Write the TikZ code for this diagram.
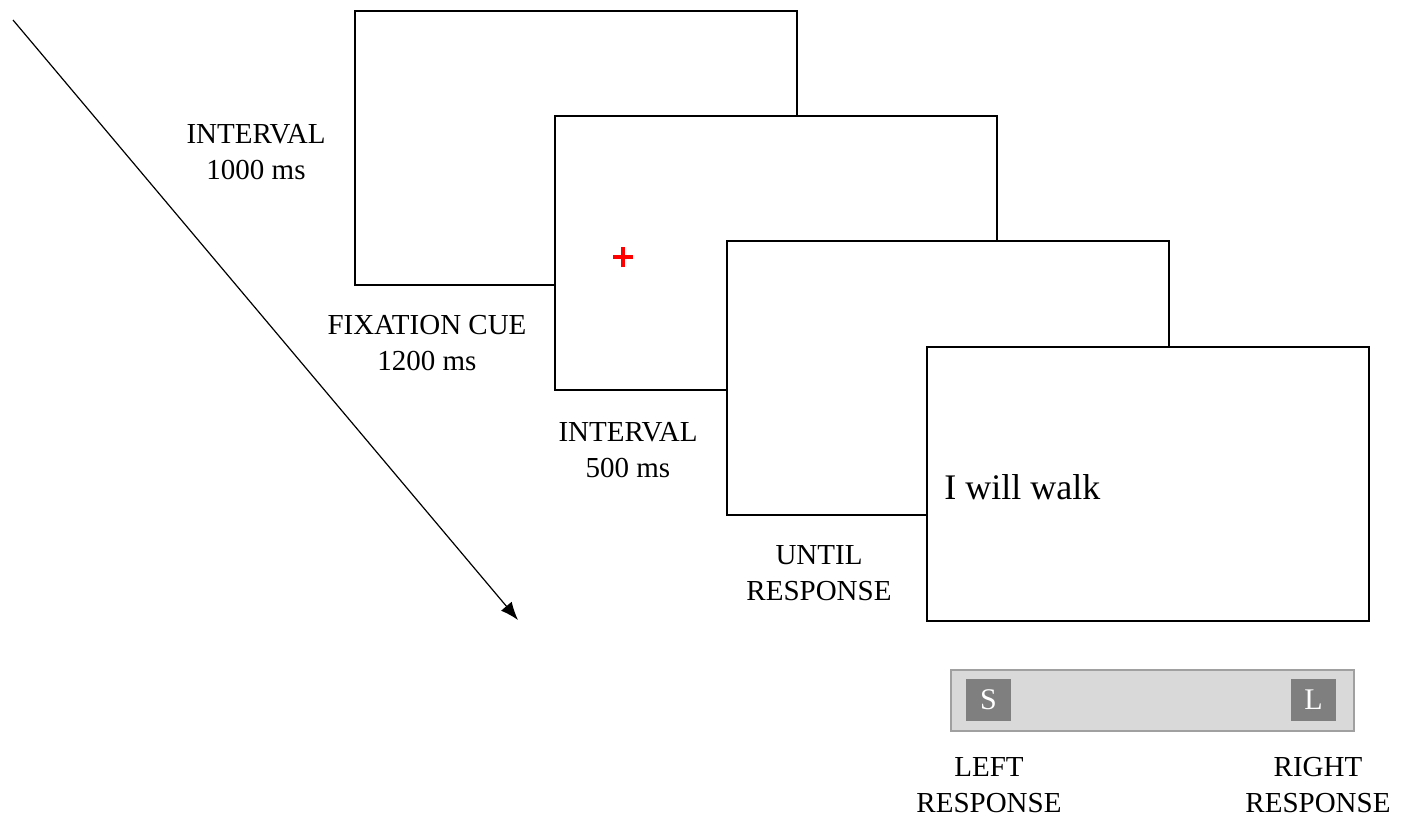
\documentclass[tikz,border=0pt]{standalone}
\usepackage{fontspec}
\setmainfont{Liberation Serif}
\usetikzlibrary{arrows.meta, positioning}
\definecolor{keyfill}{RGB}{127,127,127}
\definecolor{boardfill}{RGB}{217,217,217}
\definecolor{boardline}{RGB}{160,160,160}

\begin{document}
\begin{tikzpicture}[x=0.5pt, y=-0.5pt,
		>={Latex[length=9pt,width=7pt]},   %Pfeilspitzen
		screen/.style={draw, fill=white, line width=0.8pt, minimum width=221pt, minimum height=137pt, inner sep=0pt},
		lbl/.style={align=center, font=\fontsize{14.5}{18}\selectfont},
		key/.style={fill=keyfill, text=white, minimum width=22.5pt, minimum height=21pt, inner sep=0pt, font=\fontsize{15}{16}\selectfont}]
		%Bildbereich
		\useasboundingbox (0,0) rectangle (1413,816);
		% Zeitachse
		\coordinate (tstart) at (13,20);
		\coordinate (tend) at (518,620);
		\draw[->, line width=0.6pt] (tstart) -- (tend);
		% Bildschirme
		\node[screen] (s1) at (576,148) {};
		\node[screen] (s2) at (776,253) {};
		\node[screen] (s3) at (948,378) {};
		\node[screen] (s4) at (1148,484) {};
		% Fixationskreuz
		\node[inner sep=0pt] (fix) at (623,257) {};
		\draw[red, line width=2pt] ([xshift=-5pt]fix.center) -- ([xshift=5pt]fix.center);
		\draw[red, line width=2pt] ([yshift=-5pt]fix.center) -- ([yshift=5pt]fix.center);
		% Satz
		\node[anchor=west, inner sep=0pt, font=\fontsize{18}{20}\selectfont] (sent) at (944,487) {I will walk};
		% Beschriftungen
		\node[lbl] (l1) at (256,152) {INTERVAL\\1000 ms};
		\node[lbl] (l2) at (427,343) {FIXATION CUE\\1200 ms};
		\node[lbl] (l3) at (628,450) {INTERVAL\\500 ms};
		\node[lbl] (l4) at (819,573) {UNTIL\\RESPONSE};
		% Tastatur
		\node[draw=boardline, fill=boardfill, line width=0.8pt, minimum width=201.5pt, minimum height=30.5pt, inner sep=0pt] (kbd) at (1152.5,700.5) {};
		\node[key] (ks) at (988.5,700) {S};
		\node[key] (kl) at (1313.5,700) {L};
		\node[lbl] (rl) at (989,785) {LEFT\\RESPONSE};
		\node[lbl] (rr) at (1318,785) {RIGHT\\RESPONSE};
	\end{tikzpicture}
\end{document}
